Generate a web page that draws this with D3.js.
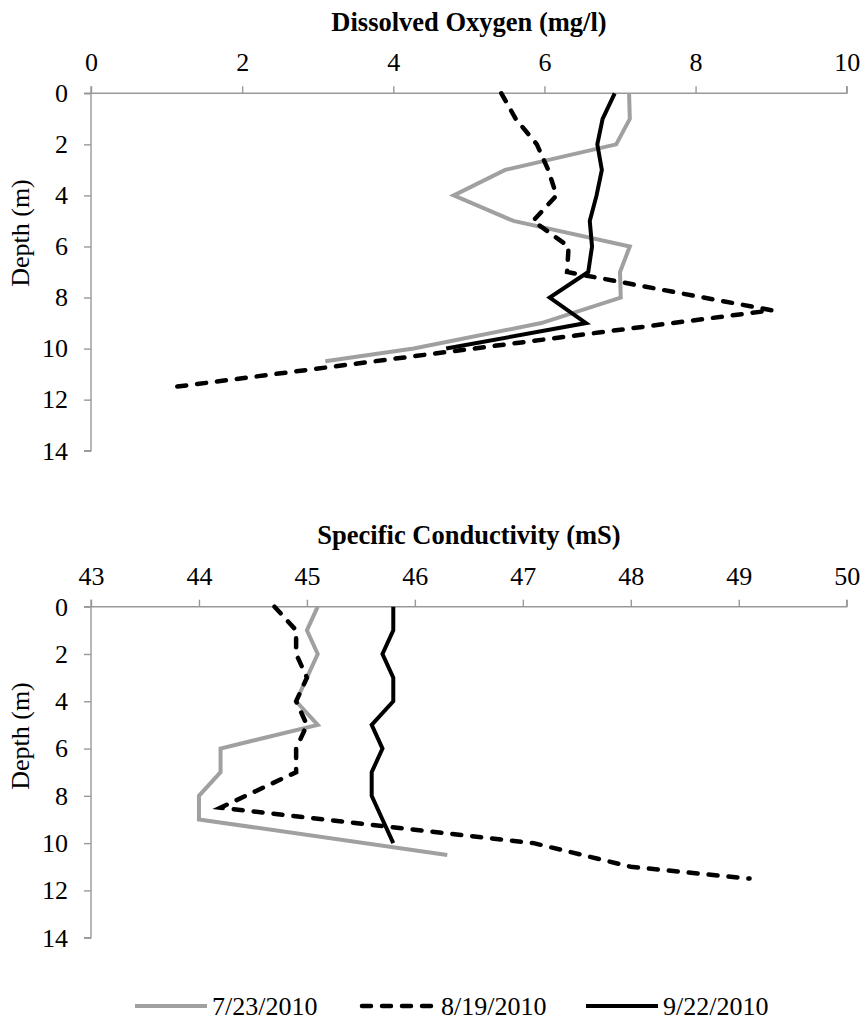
<!DOCTYPE html>
<html>
<head>
<meta charset="utf-8">
<script src="https://cdn.jsdelivr.net/npm/d3@7"></script>
<style>
  html, body { margin: 0; padding: 0; background: #fff; }
  svg { display: block; font-family: "Liberation Serif", "Times New Roman", serif; }
</style>
</head>
<body>
<svg id="chart" width="865" height="1025"></svg>
<script>
// Depth profiles, three sampling dates
const seriesNames = ["7/23/2010", "8/19/2010", "9/22/2010"];

// Dissolved oxygen (mg/l)
const doDepth0723 = [0, 1, 2, 3, 4, 5, 6, 7, 8, 9, 10, 10.5];
const doValue0723 = [7.12, 7.13, 6.95, 5.48, 4.80, 5.59, 7.13, 7.00, 7.01, 5.96, 4.27, 3.10];
const doDepth0819 = [0, 1, 2, 3, 4, 5, 6, 7, 8.5, 11.5];
const doValue0819 = [5.43, 5.62, 5.90, 6.05, 6.16, 5.85, 6.32, 6.30, 9.01, 1.11];
const doDepth0922 = [0, 1, 2, 3, 4, 5, 6, 7, 8, 9, 10];
const doValue0922 = [6.93, 6.77, 6.70, 6.76, 6.69, 6.60, 6.63, 6.58, 6.07, 6.55, 4.70];

// Specific conductivity (mS)
const scDepth0723 = [0, 1, 2, 3, 4, 5, 6, 7, 8, 9, 10.5];
const scValue0723 = [45.1, 45.0, 45.1, 45.0, 44.9, 45.1, 44.2, 44.2, 44.0, 44.0, 46.3];
const scDepth0819 = [0, 1, 2, 3, 4, 5, 6, 7, 8.5, 10, 11, 11.5];
const scValue0819 = [44.7, 44.9, 44.9, 45.0, 44.9, 45.0, 44.9, 44.9, 44.2, 47.1, 48.0, 49.1];
const scDepth0922 = [0, 1, 2, 3, 4, 5, 6, 7, 8, 9, 10];
const scValue0922 = [45.8, 45.8, 45.7, 45.8, 45.8, 45.6, 45.7, 45.6, 45.6, 45.7, 45.8];

// Axis ticks
const doTicks = [0, 2, 4, 6, 8, 10];
const scTicks = [43, 44, 45, 46, 47, 48, 49, 50];
const depthTicks = [0, 2, 4, 6, 8, 10, 12, 14];

const svg = d3.select("#chart");
const axisColor = "#999999";
const fontSize = "26px";
const styles = [
  { stroke: "#a0a0a0", dash: null, width: 4, cap: "butt" },
  { stroke: "#000000", dash: "9,11", width: 4.5, cap: "round" },
  { stroke: "#000000", dash: null, width: 4, cap: "butt" }
];

function zip(ds, vs) { return ds.map((d, i) => ({ depth: d, value: vs[i] })); }

function panel(opts) {
  const x = d3.scaleLinear().domain(opts.xDomain).range([91, 846.7]);
  const y = d3.scaleLinear().domain([0, 14]).range([opts.top, opts.bottom]);
  const g = svg.append("g");

  // value axis along the top
  const xAxis = d3.axisTop(x).tickValues(opts.xTicks).tickSize(7).tickPadding(15)
    .tickFormat(d3.format("d"));
  const gx = g.append("g").attr("transform", `translate(0,${opts.top})`).call(xAxis);
  // depth axis on the left
  const yAxis = d3.axisLeft(y).tickValues(depthTicks).tickSize(7).tickPadding(16)
    .tickFormat(d3.format("d"));
  const gy = g.append("g").attr("transform", "translate(91,0)").call(yAxis);

  [gx, gy].forEach(a => {
    a.select(".domain").attr("stroke", axisColor).attr("stroke-width", 1.4);
    a.selectAll(".tick line").attr("stroke", axisColor).attr("stroke-width", 1.4);
    a.selectAll(".tick text").attr("fill", "#000").style("font-size", fontSize)
      .style("font-family", "Liberation Serif, Times New Roman, serif");
  });
  gx.select(".domain").attr("d", `M91,-7V0H846.7V-7`);
  gy.select(".domain").attr("d", `M-7,${opts.top}H0V${opts.bottom}H-7`);

  // titles
  g.append("text").attr("x", 469).attr("y", opts.titleY)
    .attr("text-anchor", "middle").style("font-size", "26.5px").style("font-weight", "bold")
    .text(opts.title);
  g.append("text")
    .attr("transform", `translate(29,${opts.depthLabelY}) rotate(-90)`)
    .attr("text-anchor", "middle").style("font-size", fontSize)
    .text("Depth (m)");

  const line = d3.line().x(d => x(d.value)).y(d => y(d.depth));
  opts.series.forEach((s, i) => {
    const st = styles[i];
    g.append("path").datum(s)
      .attr("fill", "none")
      .attr("stroke", st.stroke)
      .attr("stroke-width", st.width)
      .attr("stroke-linejoin", "miter")
      .attr("stroke-linecap", st.cap)
      .attr("stroke-dasharray", st.dash)
      .attr("d", line);
  });
}

panel({
  title: "Dissolved Oxygen (mg/l)",
  xDomain: [0, 10], xTicks: doTicks,
  top: 93.3, bottom: 450.7, titleY: 31, depthLabelY: 233,
  series: [zip(doDepth0723, doValue0723), zip(doDepth0819, doValue0819), zip(doDepth0922, doValue0922)]
});

panel({
  title: "Specific Conductivity (mS)",
  xDomain: [43, 50], xTicks: scTicks,
  top: 606.7, bottom: 937.7, titleY: 544, depthLabelY: 736,
  series: [zip(scDepth0723, scValue0723), zip(scDepth0819, scValue0819), zip(scDepth0922, scValue0922)]
});

// legend
const legendY = 1006;
const legendItems = [
  { x: 135, len: 72, label: seriesNames[0] },
  { x: 362, len: 74, label: seriesNames[1] },
  { x: 586, len: 72, label: seriesNames[2] }
];
const lg = svg.append("g");
legendItems.forEach((it, i) => {
  const st = styles[i];
  lg.append("line")
    .attr("x1", it.x).attr("x2", it.x + it.len)
    .attr("y1", legendY).attr("y2", legendY)
    .attr("stroke", st.stroke).attr("stroke-width", st.width)
    .attr("stroke-linecap", st.cap).attr("stroke-dasharray", st.dash);
  lg.append("text").attr("x", it.x + it.len + 5).attr("y", legendY + 9)
    .style("font-size", fontSize).text(it.label);
});
</script>
</body>
</html>
